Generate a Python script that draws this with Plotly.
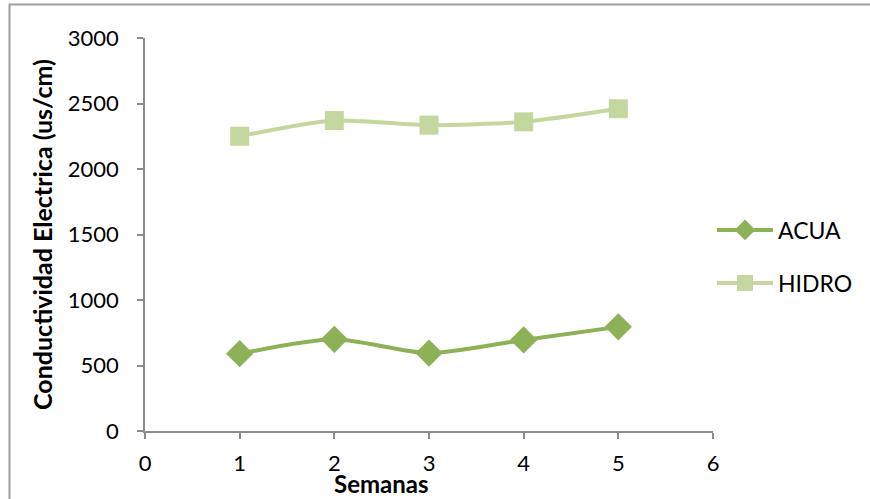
import plotly.graph_objects as go

# Weekly electrical conductivity readings
semanas = [1, 2, 3, 4, 5]
acua = [590, 700, 595, 695, 795]
hidro = [2250, 2370, 2335, 2360, 2460]

x_ticks = [0, 1, 2, 3, 4, 5, 6]
y_ticks = [0, 500, 1000, 1500, 2000, 2500, 3000]

FONT = "Lato, Open Sans, sans-serif"
ACUA_COLOR = "#8DB157"
HIDRO_COLOR = "#C4D79E"
AXIS_COLOR = "#8C8C8C"

fig = go.Figure()

fig.add_trace(go.Scatter(
    x=semanas, y=acua, name="ACUA", mode="lines+markers",
    line=dict(color=ACUA_COLOR, width=4, shape="spline", smoothing=0.7),
    marker=dict(symbol="diamond", size=21, color=ACUA_COLOR),
    legend="legend",
))
fig.add_trace(go.Scatter(
    x=semanas, y=hidro, name="HIDRO", mode="lines+markers",
    line=dict(color=HIDRO_COLOR, width=4, shape="spline", smoothing=0.7),
    marker=dict(symbol="square", size=19, color=HIDRO_COLOR),
    legend="legend2",
))

# Plot area placed with explicit margins (pixels)
L, R, T, B = 145, 157, 38, 68
W, H = 870, 499
pw, ph = W - L - R, H - T - B


def px_x(px):
    return (px - L) / pw


def px_y(py):
    return (H - B - py) / ph


legend_common = dict(
    font=dict(family=FONT, size=23, color="#000000"),
    bgcolor="rgba(0,0,0,0)",
    xanchor="left", yanchor="middle",
    itemwidth=56,
)

fig.update_layout(
    width=W, height=H,
    margin=dict(l=L, r=R, t=T, b=B),
    paper_bgcolor="white", plot_bgcolor="white",
    font=dict(family=FONT, size=22, color="#000000"),
    showlegend=True,
    legend=dict(x=px_x(712), y=px_y(230), **legend_common),
    legend2=dict(x=px_x(712), y=px_y(283), **legend_common),
    xaxis=dict(
        range=[0, 6], tickvals=x_ticks, ticktext=[str(v) for v in x_ticks],
        showgrid=False, zeroline=False,
        showline=True, linecolor=AXIS_COLOR, linewidth=1.5,
        ticks="outside", ticklen=6, tickcolor=AXIS_COLOR, tickwidth=1.5,
        tickfont=dict(family=FONT, size=22), ticklabelstandoff=6,
    ),
    yaxis=dict(
        range=[0, 3000], tickvals=y_ticks, ticktext=[str(v) for v in y_ticks],
        showgrid=False, zeroline=False,
        showline=True, linecolor=AXIS_COLOR, linewidth=1.5,
        ticks="outside", ticklen=6, tickcolor=AXIS_COLOR, tickwidth=1.5,
        tickfont=dict(family=FONT, size=22), ticklabelstandoff=14,
        title=dict(text="<b>Conductividad Electrica (us/cm)</b>",
                   font=dict(family=FONT, size=25), standoff=8),
    ),
)

# X axis title, set slightly left of the plot centre, resting on the bottom edge
fig.add_annotation(
    text="<b>Semanas</b>", xref="paper", yref="paper",
    x=px_x(381), y=px_y(499), xanchor="center", yanchor="bottom",
    borderpad=0,
    showarrow=False, font=dict(family=FONT, size=24, color="#000000"),
)

# Chart frame
fig.add_shape(
    type="rect", xref="paper", yref="paper",
    x0=px_x(9.5), x1=px_x(880), y0=px_y(4.5), y1=px_y(510),
    line=dict(color="#A0A0A0", width=2), fillcolor="rgba(0,0,0,0)",
    layer="below",
)

fig.write_html("out.html")
